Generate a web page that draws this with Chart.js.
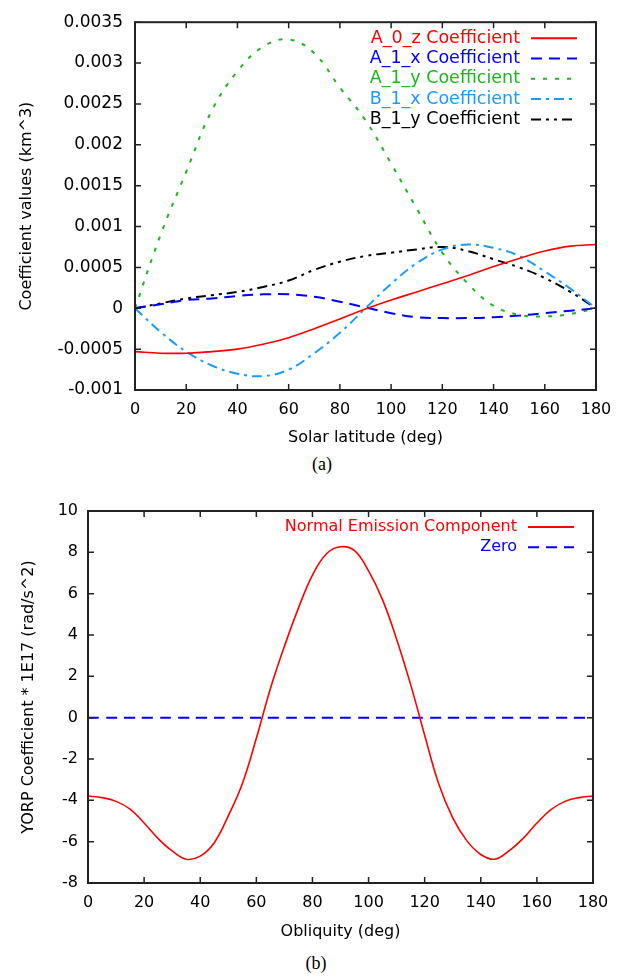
<!DOCTYPE html>
<html>
<head>
<meta charset="utf-8">
<script src="https://cdn.jsdelivr.net/npm/chart.js@4/dist/chart.umd.min.js"></script>
<style>
  body { margin: 0; background: #fff; width: 638px; height: 976px; position: relative; overflow: hidden; }
  .box { position: absolute; left: 0; width: 638px; }
  .cap { position: absolute; font-family: "Liberation Serif", "DejaVu Serif", serif; font-size: 18px; color: #000; transform: translate(-50%, -50%); }
</style>
</head>
<body>
<div class="box" style="top:0;height:450px"><canvas id="chartA" width="638" height="450"></canvas></div>
<div class="cap" style="left:322px;top:464px">(a)</div>
<div class="box" style="top:480px;height:470px"><canvas id="chartB" width="638" height="470"></canvas></div>
<div class="cap" style="left:316px;top:963px">(b)</div>
<script>
// (a) coefficients vs solar latitude
const lat = [0, 10, 20, 30, 40, 50, 60, 70, 80, 90, 100, 110, 120, 130, 140, 150, 160, 170, 180]
const a0z = [-0.00053, -0.00055, -0.00055, -0.00053, -0.0005, -0.00044, -0.00036, -0.00025, -0.00013, -0.00001, 0.0001, 0.0002, 0.0003, 0.0004, 0.00051, 0.00061, 0.0007, 0.00076, 0.00078]
const a1x = [0, 0.00005, 0.0001, 0.00012, 0.00015, 0.00017, 0.00017, 0.00014, 0.00008, 0.00001, -0.00006, -0.00011, -0.00012, -0.00012, -0.00011, -0.00009, -0.00006, -0.00003, 0]
const a1y = [0, 0.0009, 0.00167, 0.00242, 0.0029, 0.0032, 0.00329, 0.00312, 0.0027, 0.0023, 0.00177, 0.00122, 0.00068, 0.0003, 0.00003, -0.00008, -0.0001, -0.00007, 0]
const b1x = [0, -0.00029, -0.00053, -0.0007, -0.0008, -0.00083, -0.00075, -0.00055, -0.0003, 0, 0.0003, 0.00055, 0.00072, 0.00078, 0.00074, 0.00064, 0.00045, 0.00024, 0]
const b1y = [0, 0.00006, 0.00012, 0.00016, 0.0002, 0.00026, 0.00034, 0.00047, 0.00057, 0.00064, 0.00068, 0.00072, 0.00075, 0.0007, 0.0006, 0.0005, 0.00037, 0.0002, 0]

// (b) YORP coefficient vs obliquity
const obliq = [0, 5, 10, 15, 20, 25, 30, 35, 40, 45, 50, 55, 60, 65, 70, 75, 80, 85, 90, 95, 100, 105, 110, 115, 120, 125, 130, 135, 140, 145, 150, 155, 160, 165, 170, 175, 180]
const normal = [-3.79, -3.87, -4.05, -4.42, -5.1, -5.85, -6.45, -6.85, -6.7, -6.05, -4.75, -3.2, -1.0, 1.4, 3.45, 5.3, 6.9, 7.93, 8.27, 8.08, 7.1, 5.7, 3.8, 1.6, -0.85, -3.2, -4.85, -5.95, -6.62, -6.85, -6.45, -5.85, -5.1, -4.45, -4.05, -3.87, -3.79]
const zero = [0, 0, 0, 0, 0, 0, 0, 0, 0, 0, 0, 0, 0, 0, 0, 0, 0, 0, 0, 0, 0, 0, 0, 0, 0, 0, 0, 0, 0, 0, 0, 0, 0, 0, 0, 0, 0]

const FONT = '"DejaVu Sans", Verdana, sans-serif'
Chart.defaults.font.family = FONT
Chart.defaults.font.size = 16
Chart.defaults.color = '#000'

// box, inward ticks and a gnuplot-like legend (text then line sample)
const framePlugin = {
  id: 'frame',
  afterDatasetsDraw(chart, args, opts) {
    const ctx = chart.ctx
    const a = chart.chartArea
    const sx = chart.scales.x, sy = chart.scales.y
    ctx.save()
    ctx.strokeStyle = '#222'
    ctx.lineWidth = 1.5
    ctx.beginPath()
    sx.ticks.forEach(t => {
      const px = sx.getPixelForValue(t.value)
      ctx.moveTo(px, a.bottom); ctx.lineTo(px, a.bottom - 6)
      ctx.moveTo(px, a.top); ctx.lineTo(px, a.top + 6)
    })
    sy.ticks.forEach(t => {
      const py = sy.getPixelForValue(t.value)
      ctx.moveTo(a.left, py); ctx.lineTo(a.left + 6, py)
      ctx.moveTo(a.right, py); ctx.lineTo(a.right - 6, py)
    })
    ctx.stroke()
    ctx.lineWidth = 2
    ctx.strokeRect(a.left, a.top, a.right - a.left, a.bottom - a.top)

    ctx.font = (opts.size || 16) + 'px ' + FONT
    ctx.textAlign = 'right'
    ctx.textBaseline = 'middle'
    chart.data.datasets.forEach((ds, i) => {
      const y = a.top + 16 + i * 20.3
      ctx.fillStyle = ds.borderColor
      ctx.fillText(ds.label, a.right - 76, y)
      ctx.strokeStyle = ds.borderColor
      ctx.lineWidth = 2
      ctx.setLineDash(ds.borderDash || [])
      ctx.beginPath()
      ctx.moveTo(a.right - 65, y); ctx.lineTo(a.right - 19, y)
      ctx.stroke()
    })
    ctx.restore()
  }
}

function fmt(v) { return String(parseFloat(v.toFixed(6))) }

function line(label, data, color, dash) {
  return { label, data, borderColor: color, borderWidth: dash ? 2 : 1.6, borderDash: dash,
    pointRadius: 0, tension: 0.4, fill: false }
}

function axes(o) {
  return {
    x: {
      type: 'linear', min: 0, max: 180,
      grid: { display: false, drawTicks: false }, border: { display: false },
      ticks: { stepSize: 20, padding: o.xPad, callback: fmt, font: { size: 16 } },
      title: { display: true, text: o.xTitle, padding: { top: 0, bottom: o.xTitlePad } },
      afterFit: s => { s.height = o.xHeight }
    },
    y: {
      min: o.yMin, max: o.yMax,
      grid: { display: false, drawTicks: false }, border: { display: false },
      ticks: { stepSize: o.yStep, padding: o.yPad, callback: fmt, font: { size: o.ySize } },
      title: { display: true, text: o.yTitle, padding: { top: o.yTitlePad, bottom: 0 } },
      afterFit: s => { s.width = o.yWidth }
    }
  }
}

new Chart(document.getElementById('chartA'), {
  type: 'line',
  data: {
    labels: lat,
    datasets: [
      line('A_0_z Coefficient', a0z, '#ff0000'),
      line('A_1_x Coefficient', a1x, '#0000ff', [11, 7]),
      line('A_1_y Coefficient', a1y, '#1cb81c', [4, 8]),
      line('B_1_x Coefficient', b1x, '#1a9cff', [10, 5, 3, 5]),
      line('B_1_y Coefficient', b1y, '#000000', [10, 5, 3, 5, 3, 5])
    ]
  },
  options: {
    responsive: false, animation: false,
    layout: { padding: { left: 0, right: 42, top: 14, bottom: 0 } },
    plugins: { legend: { display: false }, tooltip: { enabled: false }, frame: { size: 17.5 } },
    scales: axes({ xTitle: 'Solar latitude (deg)', yTitle: 'Coefficient values (km^3)',
      yMin: -0.001, yMax: 0.0035, yStep: 0.0005, xPad: 10, yPad: 12, ySize: 17, xHeight: 60, yWidth: 135,
      xTitlePad: 3, yTitlePad: 17 })
  },
  plugins: [framePlugin]
})

new Chart(document.getElementById('chartB'), {
  type: 'line',
  data: {
    labels: obliq,
    datasets: [
      line('Normal Emission Component', normal, '#ff0000'),
      line('Zero', zero, '#0000ff', [11, 7])
    ]
  },
  options: {
    responsive: false, animation: false,
    layout: { padding: { left: 0, right: 45, top: 31, bottom: 0 } },
    plugins: { legend: { display: false }, tooltip: { enabled: false }, frame: { size: 16 } },
    scales: axes({ xTitle: 'Obliquity (deg)', yTitle: 'YORP Coefficient * 1E17 (rad/s^2)',
      yMin: -8, yMax: 10, yStep: 2, xPad: 10, yPad: 10, ySize: 16, xHeight: 67, yWidth: 88,
      xTitlePad: 9, yTitlePad: 19 })
  },
  plugins: [framePlugin]
})
</script>
</body>
</html>
